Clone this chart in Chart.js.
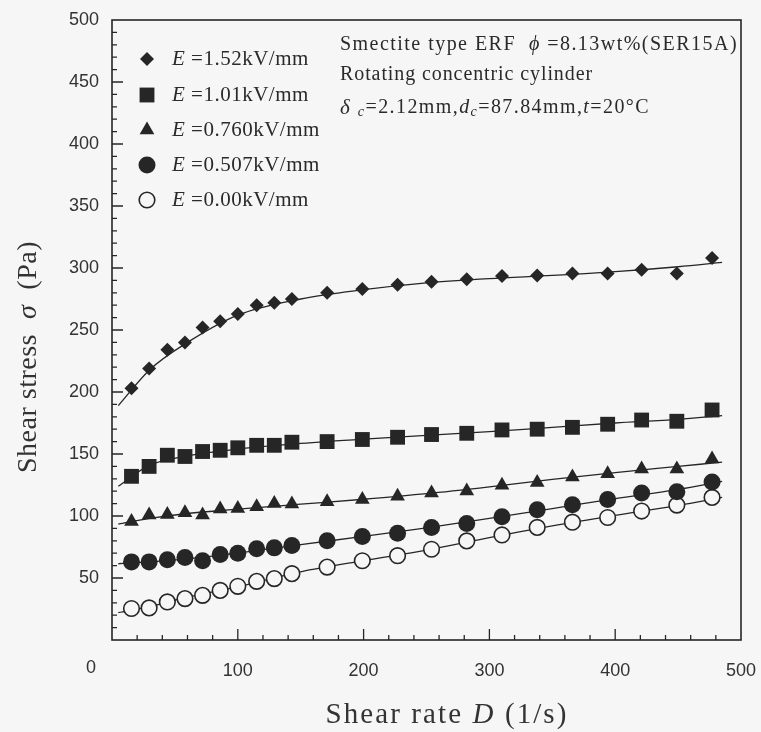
<!DOCTYPE html>
<html>
<head>
<meta charset="utf-8">
<script src="https://cdn.jsdelivr.net/npm/chart.js@4.4.1/dist/chart.umd.min.js"></script>
<style>
  html, body { margin: 0; padding: 0; background: #f7f6f7; }
  #wrap { width: 761px; height: 732px; }
</style>
</head>
<body>
<div id="wrap"><canvas id="chart" width="761" height="732"></canvas></div>
<script>
// shear rate D (1/s) of the measured points
const shearRate = [15.5, 29.5, 44, 58, 72, 86, 100, 115, 129, 143, 171, 199, 227, 254, 282, 310, 338, 366, 394, 421, 449, 477];

// measured shear stress (Pa), one list per field strength
const stress152 = [203, 219, 234, 240, 252, 257, 263, 270, 272, 275, 280, 283, 286.5, 289, 291, 293.5, 294, 295.5, 295.5, 298.5, 295.5, 308];
const stress101 = [132, 140, 149, 148, 152, 153, 155, 157, 157, 159.5, 160, 161.7, 163.5, 165.7, 166.7, 169.4, 170, 171.5, 174, 177.4, 176.4, 185.5];
const stress076 = [95.5, 100.8, 101.3, 102.6, 100.8, 105.6, 106, 107.4, 110, 109.6, 111.4, 113.3, 116, 118.6, 120.2, 124.8, 127, 131.5, 134, 138, 138, 146];
const stress051 = [63, 63, 64.7, 66.5, 64, 69, 70, 73.5, 74.3, 76.2, 80, 83.4, 86, 90.8, 94, 99.4, 105, 109, 113.3, 118.5, 119.5, 127.5];
const stress000 = [25.4, 25.9, 30.7, 33.4, 36, 40, 43.3, 47.3, 49.5, 53.5, 58.8, 63.9, 68, 73.2, 79.9, 84.7, 90.8, 95, 98.8, 104, 108.8, 115];

// fitted curves
const fitRate = [5, 30, 60, 100, 150, 200, 250, 300, 350, 400, 450, 485];
const fit152 = [189, 218, 240, 262, 275, 282.5, 288, 291.5, 294, 297, 301, 304.5];
const fit101 = [124, 141, 148.5, 154, 158.5, 162, 165, 168, 171.5, 175, 178, 181];
const fit076 = [93.5, 98, 102, 105.5, 109.5, 113.5, 118, 123.5, 129.5, 135, 140, 143.5];
const fit051 = [61.5, 63, 65.5, 70, 77, 83.5, 90.5, 98, 106, 114, 121.5, 128];
const fit000 = [22, 27, 34.5, 43, 55, 64, 72.5, 82.5, 92, 100.5, 108.5, 115];

const legendLabels = ['=1.52kV/mm', '=1.01kV/mm', '=0.760kV/mm', '=0.507kV/mm', '=0.00kV/mm'];
const xTicks = [0, 100, 200, 300, 400, 500];
const yTicks = [0, 50, 100, 150, 200, 250, 300, 350, 400, 450, 500];

const ink = '#262626';
const bg = '#f7f6f7';
const serif = '"Liberation Serif", "DejaVu Serif", serif';
const sans = '"Liberation Sans", Arial, sans-serif';

const markerStyles = [
  { pointStyle: 'rectRot', radius: 7, fill: ink, border: 0 },
  { pointStyle: 'rect', radius: 10.5, fill: ink, border: 0 },
  { pointStyle: 'triangle', radius: 8.5, fill: ink, border: 0 },
  { pointStyle: 'circle', radius: 8.5, fill: ink, border: 0 },
  { pointStyle: 'circle', radius: 7.8, fill: bg, border: 1.6 }
];

const toXY = (xs, ys) => xs.map((x, i) => ({ x: x, y: ys[i] }));
const measured = [stress152, stress101, stress076, stress051, stress000];
const fits = [fit152, fit101, fit076, fit051, fit000];

const datasets = [];
fits.forEach((f, i) => {
  datasets.push({
    label: 'fit ' + i,
    data: toXY(fitRate, f),
    showLine: true,
    borderColor: ink,
    borderWidth: 1.3,
    pointRadius: 0,
    cubicInterpolationMode: 'monotone',
    fill: false,
    order: 2
  });
});
measured.forEach((s, i) => {
  const st = markerStyles[i];
  datasets.push({
    label: legendLabels[i],
    data: toXY(shearRate, s),
    showLine: false,
    pointStyle: st.pointStyle,
    pointRadius: st.radius,
    pointHoverRadius: st.radius,
    pointBackgroundColor: st.fill,
    pointBorderColor: ink,
    pointBorderWidth: st.border,
    order: 1
  });
});

// draws a row of text pieces, each with its own font / offset
function drawRuns(ctx, runs, x, y, opts) {
  opts = opts || {};
  ctx.letterSpacing = '0px';
  let natural = 0, chars = 0;
  runs.forEach(r => { ctx.font = r.font; natural += ctx.measureText(r.text).width; chars += r.text.length; });
  let spacing = opts.spacing || 0;
  if (opts.width) spacing = (opts.width - natural) / chars;
  ctx.letterSpacing = spacing + 'px';
  const total = natural + spacing * chars;
  let cx = opts.align === 'center' ? x - total / 2 : x;
  ctx.textAlign = 'left';
  ctx.textBaseline = 'middle';
  runs.forEach(r => {
    ctx.font = r.font;
    ctx.fillText(r.text, cx, y + (r.dy || 0));
    cx += ctx.measureText(r.text).width;
  });
  ctx.letterSpacing = '0px';
}

const framePlugin = {
  id: 'frame',
  afterDraw(chart) {
    const ctx = chart.ctx;
    const { left, right, top, bottom } = chart.chartArea;
    const xs = chart.scales.x, ys = chart.scales.y;
    ctx.save();
    ctx.strokeStyle = ink;
    ctx.fillStyle = ink;

    // box
    ctx.lineWidth = 1.6;
    ctx.strokeRect(left, top, right - left, bottom - top);

    // inward ticks
    ctx.lineWidth = 1.3;
    ctx.beginPath();
    for (let v = 20; v < 500; v += 20) {
      const px = xs.getPixelForValue(v);
      const len = v % 100 === 0 ? 11 : 5;
      ctx.moveTo(px, bottom); ctx.lineTo(px, bottom - len);
    }
    for (let v = 10; v < 500; v += 10) {
      const py = ys.getPixelForValue(v);
      const len = v % 50 === 0 ? 11 : 5;
      ctx.moveTo(left, py); ctx.lineTo(left + len, py);
    }
    ctx.stroke();

    // shared origin label
    ctx.font = '18px ' + sans;
    ctx.fillStyle = '#333';
    ctx.textAlign = 'center';
    ctx.textBaseline = 'middle';
    ctx.fillText('0', left - 21, bottom + 28);

    // axis titles
    ctx.fillStyle = '#333';
    drawRuns(ctx, [
      { text: 'Shear rate ', font: '29px ' + serif },
      { text: 'D', font: 'italic 29px ' + serif },
      { text: ' (1/s)', font: '29px ' + serif }
    ], 447, 715, { align: 'center', width: 243 });

    ctx.save();
    ctx.translate(29, 357);
    ctx.rotate(-Math.PI / 2);
    drawRuns(ctx, [
      { text: 'Shear stress  ', font: '28px ' + serif },
      { text: 'σ', font: 'italic 28px ' + serif },
      { text: '  (Pa)', font: '28px ' + serif }
    ], 0, 0, { align: 'center', width: 232 });
    ctx.restore();

    // legend inside the plot
    const rowsY = [59, 95, 130, 165, 200];
    markerStyles.forEach((st, i) => {
      ctx.fillStyle = st.fill;
      ctx.strokeStyle = ink;
      ctx.lineWidth = st.border;
      Chart.helpers.drawPoint(ctx, { pointStyle: st.pointStyle, radius: st.radius, rotation: 0, borderWidth: st.border }, 147, rowsY[i]);
      ctx.fillStyle = '#2a2a2a';
      drawRuns(ctx, [
        { text: 'E ', font: 'italic 21px ' + serif },
        { text: legendLabels[i], font: '21px ' + serif }
      ], 172, rowsY[i], { spacing: 0.5 });
    });

    // experiment note, top right
    ctx.fillStyle = '#2a2a2a';
    drawRuns(ctx, [
      { text: 'Smectite type ERF  ', font: '20px ' + serif },
      { text: 'ϕ', font: 'italic 20px ' + serif },
      { text: ' =8.13wt%(SER15A)', font: '20px ' + serif }
    ], 340, 45, { width: 398 });
    drawRuns(ctx, [
      { text: 'Rotating concentric cylinder', font: '20px ' + serif }
    ], 340, 75, { width: 253 });
    drawRuns(ctx, [
      { text: 'δ ', font: 'italic 21px ' + serif },
      { text: 'c', font: 'italic 14px ' + serif, dy: 4 },
      { text: '=2.12mm,', font: '20px ' + serif },
      { text: 'd', font: 'italic 20px ' + serif },
      { text: 'c', font: 'italic 14px ' + serif, dy: 4 },
      { text: '=87.84mm,', font: '20px ' + serif },
      { text: 't', font: 'italic 20px ' + serif },
      { text: '=20°C', font: '20px ' + serif }
    ], 340, 108, { width: 310 });

    ctx.restore();
  }
};

new Chart(document.getElementById('chart'), {
  type: 'scatter',
  data: { datasets: datasets },
  options: {
    responsive: false,
    animation: false,
    layout: { padding: { top: 20, right: 20, left: 0, bottom: 0 } },
    plugins: { legend: { display: false }, tooltip: { enabled: false } },
    scales: {
      x: {
        type: 'linear',
        min: 0,
        max: 500,
        afterFit: s => { s.height = 92; s.paddingLeft = 0; s.paddingRight = 0; },
        afterBuildTicks: s => { s.ticks = xTicks.map(v => ({ value: v })); },
        grid: { display: false, drawTicks: false },
        border: { display: false },
        ticks: {
          padding: 20,
          color: '#333',
          font: { family: sans, size: 18 },
          callback: v => (v === 0 ? '' : v)
        }
      },
      y: {
        type: 'linear',
        min: 0,
        max: 500,
        afterFit: s => { s.width = 112; s.paddingTop = 0; s.paddingBottom = 0; },
        afterBuildTicks: s => { s.ticks = yTicks.map(v => ({ value: v })); },
        grid: { display: false, drawTicks: false },
        border: { display: false },
        ticks: {
          padding: 13,
          color: '#333',
          font: { family: sans, size: 18 },
          callback: v => (v === 0 ? '' : v)
        }
      }
    }
  },
  plugins: [framePlugin]
});
</script>
</body>
</html>
